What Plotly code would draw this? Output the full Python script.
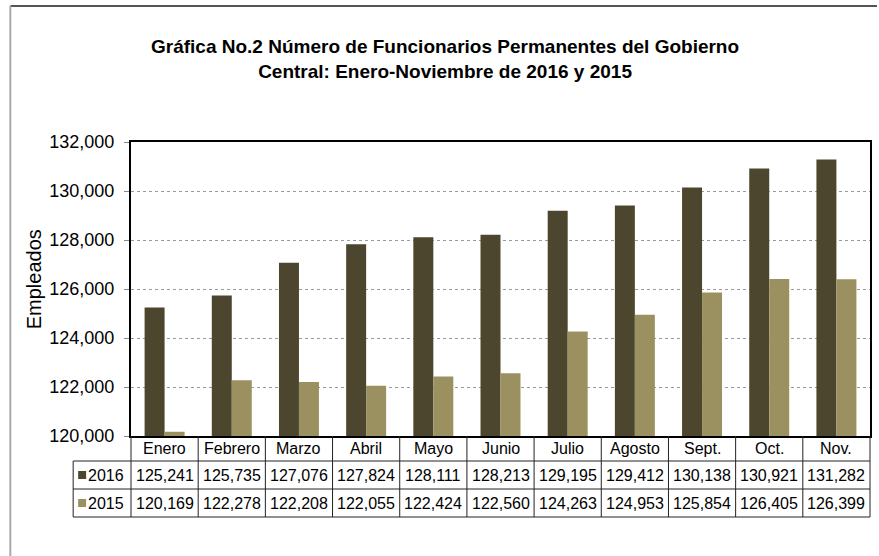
import plotly.graph_objects as go

months = ["Enero", "Febrero", "Marzo", "Abril", "Mayo", "Junio", "Julio",
          "Agosto", "Sept.", "Oct.", "Nov."]
series_names = ["2016", "2015"]
values_2016 = [125241, 125735, 127076, 127824, 128111, 128213, 129195,
               129412, 130138, 130921, 131282]
values_2015 = [120169, 122278, 122208, 122055, 122424, 122560, 124263,
               124953, 125854, 126405, 126399]
y_ticks = [120000, 122000, 124000, 126000, 128000, 130000, 132000]
title_lines = ["Gráfica No.2 Número de Funcionarios Permanentes del Gobierno",
               "Central: Enero-Noviembre de 2016 y 2015"]
y_title = "Empleados"

colors = ["#4C462E", "#9B9160"]
series_values = [values_2016, values_2015]

W, H = 879, 556
L, R, T, B = 131, 7, 142, 120
PW, PH = W - L - R, H - T - B
FONT = "Liberation Sans, Arial, sans-serif"

def px_x(px):
    return (px - L) / PW

def px_y(py):
    return (H - B - py) / PH

n = len(months)
xs = list(range(n))

fig = go.Figure()
for name, vals, col in zip(series_names, series_values, colors):
    fig.add_trace(go.Bar(x=xs, y=vals, name=name, marker=dict(color=col, line=dict(width=0)),
                         showlegend=False, hoverinfo="skip"))

shapes = []
annotations = []

row_bounds = [436, 461, 489, 517]
left_col = 73
line_col = "#222222"

# horizontal table lines
for yb in row_bounds[1:]:
    shapes.append(dict(type="line", xref="paper", yref="paper",
                       x0=px_x(left_col), x1=1, y0=px_y(yb), y1=px_y(yb),
                       line=dict(color=line_col, width=1)))
# vertical lines at category boundaries
for i in range(n + 1):
    shapes.append(dict(type="line", xref="paper", yref="paper",
                       x0=i / n, x1=i / n,
                       y0=px_y(row_bounds[0]), y1=px_y(row_bounds[-1]),
                       line=dict(color=line_col, width=1)))
# left column border
shapes.append(dict(type="line", xref="paper", yref="paper",
                   x0=px_x(left_col), x1=px_x(left_col),
                   y0=px_y(row_bounds[1]), y1=px_y(row_bounds[-1]),
                   line=dict(color=line_col, width=1)))

txt = dict(size=16, color="#000", family=FONT)
# category labels
cat_y = px_y((row_bounds[0] + row_bounds[1]) / 2)
for i, m in enumerate(months):
    annotations.append(dict(x=i, y=cat_y, xref="x", yref="paper", text=m,
                            xanchor="center", yanchor="middle",
                            showarrow=False, font=txt))
# value rows
for r, (name, vals, col) in enumerate(zip(series_names, series_values, colors)):
    yc_px = (row_bounds[r + 1] + row_bounds[r + 2]) / 2
    yc = px_y(yc_px)
    for i, v in enumerate(vals):
        annotations.append(dict(x=i, y=yc, xref="x", yref="paper", text=f"{v:,}",
                                xanchor="center", yanchor="middle",
                                showarrow=False, font=txt))
    annotations.append(dict(x=px_x(86), y=yc, xref="paper", yref="paper", text=name,
                            xanchor="left", yanchor="middle", showarrow=False, font=txt))
    shapes.append(dict(type="rect", xref="paper", yref="paper",
                       x0=px_x(78), x1=px_x(86), y0=px_y(yc_px + 4), y1=px_y(yc_px - 4),
                       fillcolor=col, line=dict(width=0)))

# outer frame lines
shapes.append(dict(type="line", xref="paper", yref="paper",
                   x0=px_x(10), x1=px_x(W), y0=px_y(6), y1=px_y(6),
                   line=dict(color="#555555", width=2)))
shapes.append(dict(type="line", xref="paper", yref="paper",
                   x0=px_x(10), x1=px_x(10), y0=px_y(6), y1=px_y(H),
                   line=dict(color="#AAAAAA", width=2)))

# title
annotations.append(dict(x=px_x(446), y=px_y(59), xref="paper", yref="paper",
                        text="<b>" + title_lines[0] + "</b><br><b>" + title_lines[1] + "</b>",
                        xanchor="center", yanchor="middle",
                        showarrow=False, font=dict(size=19, color="#000", family=FONT)))
# y axis title
annotations.append(dict(x=px_x(34), y=px_y(279), xref="paper", yref="paper",
                        text=y_title, textangle=-90, showarrow=False,
                        xanchor="center", yanchor="middle",
                        font=dict(size=20, color="#000", family=FONT)))

fig.update_layout(
    width=W, height=H, autosize=False,
    margin=dict(l=L, r=R, t=T, b=B, pad=0),
    paper_bgcolor="white", plot_bgcolor="white",
    barmode="group", bargap=0.405, bargroupgap=0,
    shapes=shapes, annotations=annotations,
    font=dict(family=FONT, color="#000"),
    xaxis=dict(range=[-0.5, n - 0.5], showticklabels=False, showgrid=False,
               zeroline=False, showline=True, linecolor="#000", linewidth=2,
               mirror=True, ticks=""),
    yaxis=dict(range=[y_ticks[0], y_ticks[-1]], tickvals=y_ticks,
               ticktext=[f"{t:,}" for t in y_ticks],
               showgrid=True, gridcolor="#9A9A9A", griddash="dot", gridwidth=1,
               zeroline=False, showline=True, linecolor="#000", linewidth=2,
               mirror=True, ticks="outside", ticklen=5, tickcolor="#888888",
               tickfont=dict(size=18, color="#000", family=FONT),
               ticklabelstandoff=6),
)

fig.write_html("out.html", config={"displayModeBar": False},
               post_script="document.body.style.margin='0';document.body.style.overflow='hidden';")
